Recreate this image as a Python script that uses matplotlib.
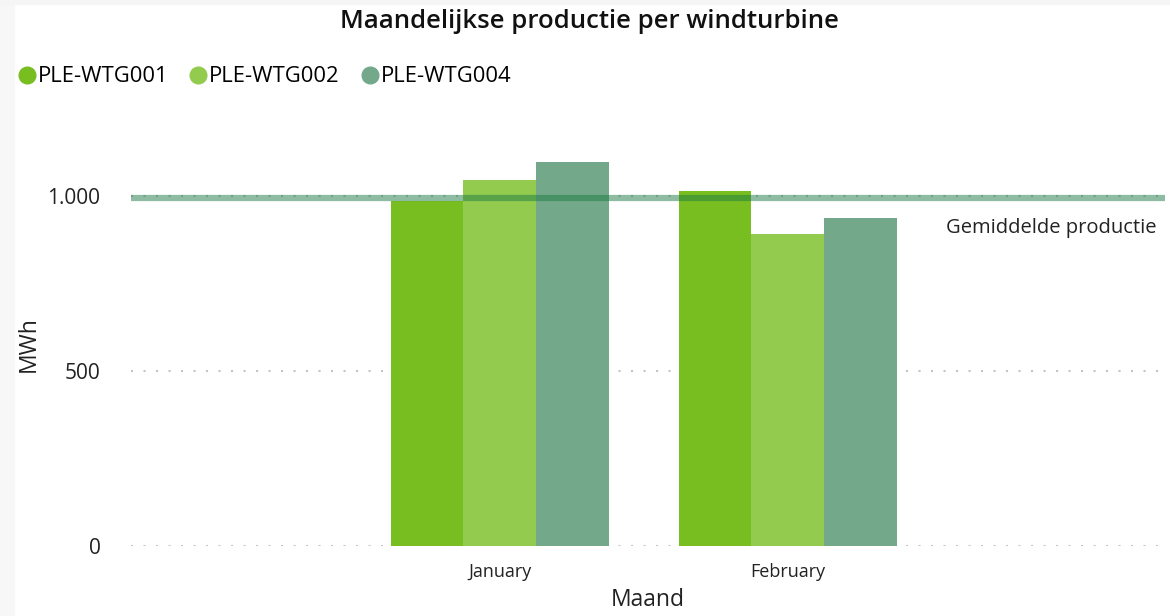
import matplotlib.pyplot as plt
import numpy as np
from matplotlib.lines import Line2D
from matplotlib.patches import Rectangle
from matplotlib.ticker import FuncFormatter

plt.rcParams['font.family'] = ['Open Sans', 'DejaVu Sans']

# data
maanden = ["January", "February"]
turbines = ["PLE-WTG001", "PLE-WTG002", "PLE-WTG004"]
wtg001 = [985, 1012]
wtg002 = [1044, 890]
wtg004 = [1095, 936]
gemiddelde = 993
kleuren = ["#78BE20", "#92CB4E", "#73A98A"]

fig = plt.figure(figsize=(11.7, 6.16), dpi=100)
fig.patch.set_facecolor("white")
# light grey strips at the edges of the screenshot
fig.patches.append(Rectangle((0, 0), 14 / 1170, 1, transform=fig.transFigure,
                             color="#F7F7F7", zorder=0))
fig.patches.append(Rectangle((0, 1 - 4 / 616), 1, 4 / 616, transform=fig.transFigure,
                             color="#F5F5F5", zorder=0))

ax = fig.add_axes([131 / 1170, 70 / 616, 1034 / 1170, 403 / 616])

x = np.arange(len(maanden))
breedte = 0.2525
for i, (serie, kleur) in enumerate(zip([wtg001, wtg002, wtg004], kleuren)):
    ax.bar(x + (i - 1) * breedte, serie, breedte, color=kleur, zorder=2)

ax.axhline(gemiddelde, color="#1F7A46", alpha=0.5, linewidth=4.5, zorder=3)
ax.text(1026 / 1034, gemiddelde - 86, "Gemiddelde productie", transform=ax.get_yaxis_transform(),
        ha="right", va="center", fontsize=14.5, color="#222222")

ax.set_xlim(-1.28, 2.31)
ax.set_ylim(0, 1150)
ax.set_yticks([0, 500, 1000])
ax.yaxis.set_major_formatter(FuncFormatter(lambda v, p: f"{v:,.0f}".replace(",", ".")))
ax.set_xticks(x)
ax.set_xticklabels(maanden, fontsize=13, color="#222222")
ax.tick_params(axis="y", labelsize=15, colors="#222222", length=0, pad=22)
ax.tick_params(axis="x", length=0, pad=12)
ax.grid(axis="y", color="#C4C4C4", linestyle=(0, (1, 5)), linewidth=1.5, zorder=0)
for s in ax.spines.values():
    s.set_visible(False)

ax.set_xlabel("Maand", fontsize=16.5, color="#222222", labelpad=5)
ax.set_ylabel("MWh", fontsize=16.5, color="#222222", labelpad=5)

fig.text(0.504, 1 - 22 / 616, "Maandelijkse productie per windturbine", ha="center", va="center",
         fontsize=18.5, fontweight="semibold", color="#111111")

handles = [Line2D([], [], marker="o", linestyle="", markersize=12, color=k) for k in kleuren]
fig.legend(handles, turbines, loc="center left", bbox_to_anchor=(14 / 1170, 1 - 77 / 616), ncol=3,
           frameon=False, fontsize=15.8, handletextpad=-0.1, columnspacing=0.75, handlelength=1.2,
           borderaxespad=0, borderpad=0)

plt.savefig("out.png", dpi=100)
